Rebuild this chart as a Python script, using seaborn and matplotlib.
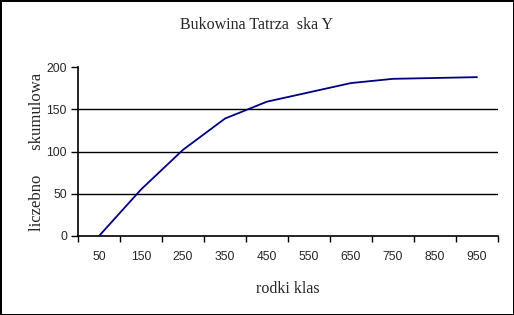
import matplotlib
matplotlib.use("Agg")
import matplotlib.pyplot as plt
import seaborn as sns
import pandas as pd
import numpy as np

categories = ["50", "150", "250", "350", "450", "550", "650", "750", "850", "950"]
values = [0, 55, 102, 139, 159, 170, 181, 186, 187, 188]
y_ticks = [0, 50, 100, 150, 200]

sns.set_theme(style="white")
plt.rcParams['font.family'] = ['Liberation Serif', 'DejaVu Serif']

df = pd.DataFrame({"pos": np.arange(len(categories)), "val": values})

fig = plt.figure(figsize=(5.14, 3.15), dpi=100)
fig.patch.set_edgecolor("black")
fig.patch.set_linewidth(2)
ax = fig.add_axes([78/514, 1-236/315, (498-78)/514, (236-67)/315])

for g in [50, 100, 150]:
    ax.axhline(g, color="black", lw=1.0, zorder=1)

sns.lineplot(data=df, x="pos", y="val", ax=ax, color="#000080", lw=1.3, zorder=3)

ax.set_xlim(-0.5, len(categories) - 0.5)
ax.set_ylim(0, 200)
ax.set_xticks(df["pos"])
ax.set_xticklabels(categories, family="Liberation Sans", fontsize=8.7)
ax.set_xticks(np.arange(-0.5, len(categories)), minor=True)
ax.tick_params(axis="x", which="major", length=0, pad=11)
ax.tick_params(axis="x", which="minor", length=4, width=1, color="black", direction="out", bottom=True)
ax.set_yticks(y_ticks)
ax.set_yticklabels([str(v) for v in y_ticks], family="Liberation Sans", fontsize=8.7)
ax.tick_params(axis="y", length=5, width=1, color="black", direction="out", left=True, pad=3)

for s in ["top", "right"]:
    ax.spines[s].set_visible(False)
for s in ["left", "bottom"]:
    ax.spines[s].set_color("black")
    ax.spines[s].set_linewidth(1.2)

ax.set_xlabel("rodki klas", fontsize=11.5, labelpad=13)
ax.set_ylabel("liczebno      skumulowa", fontsize=12, labelpad=1)
fig.text(256/514, 1-25/315, "Bukowina Tatrza  ska Y", ha="center", va="center", fontsize=11.5)

fig.savefig("out.png", dpi=100, edgecolor=fig.get_edgecolor())
